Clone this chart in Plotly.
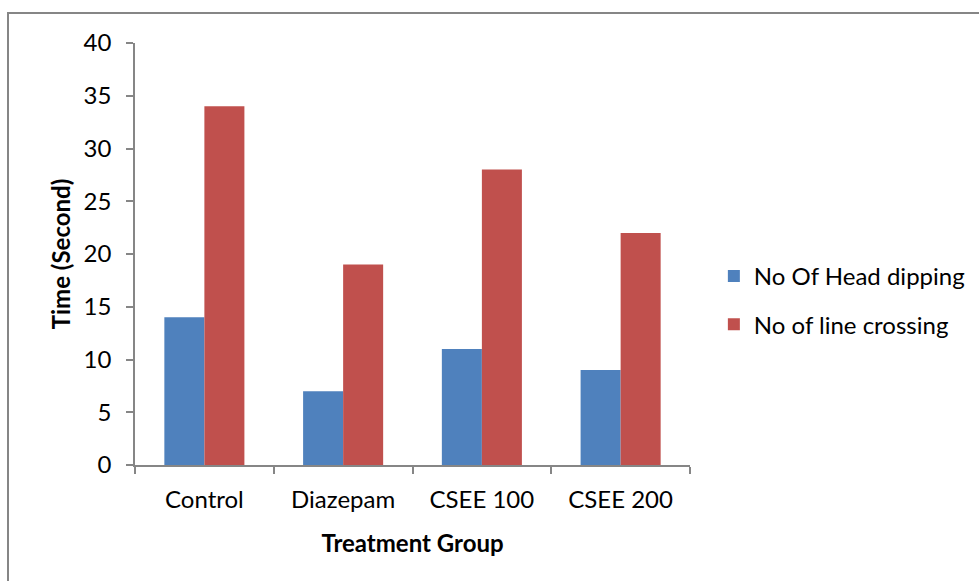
import plotly.graph_objects as go

# Treatment groups and the two measured behaviours
groups = ["Control", "Diazepam", "CSEE 100", "CSEE 200"]
head_dipping = [14, 7, 11, 9]
line_crossing = [34, 19, 28, 22]

series_names = ["No Of Head dipping", "No of line crossing"]
series_colors = ["#4F81BD", "#C0504D"]

FONT = "Lato"
FS = 24
AXIS_GRAY = "#868686"

L, R, T, B = 135, 289, 43, 116
W, H = 979, 581
PW, PH = W - L - R, H - T - B

fig = go.Figure()
for name, vals, col, grp in zip(series_names, [head_dipping, line_crossing], series_colors, ["a", "b"]):
    fig.add_trace(go.Bar(
        x=groups, y=vals, name=name, marker=dict(color=col, line=dict(width=0)),
        legendgroup=grp,
    ))

fig.update_layout(
    width=W, height=H,
    margin=dict(l=L, r=R, t=T, b=B, autoexpand=False),
    paper_bgcolor="white", plot_bgcolor="white",
    barmode="group", bargap=0.423, bargroupgap=0,
    font=dict(family=FONT, size=FS, color="black"),
    showlegend=True,
    legend=dict(
        x=1.043, xanchor="left", y=0.39, yanchor="middle",
        font=dict(family=FONT, size=FS, color="black"),
        tracegroupgap=14, itemwidth=30,
        bgcolor="rgba(0,0,0,0)",
    ),
    xaxis=dict(
        type="category",
        showline=True, linecolor=AXIS_GRAY, linewidth=1.5,
        ticks="outside", tickson="boundaries", ticklen=7, tickcolor=AXIS_GRAY, tickwidth=1.5,
        ticklabelstandoff=12,
        showgrid=False, zeroline=False,
        tickfont=dict(family=FONT, size=FS, color="black"),
        title=dict(text="<b>Treatment Group</b>", font=dict(family=FONT, size=FS, color="black"), standoff=24),
    ),
    yaxis=dict(
        range=[0, 40], dtick=5,
        showline=True, linecolor=AXIS_GRAY, linewidth=1.5,
        ticks="outside", ticklen=7, tickcolor=AXIS_GRAY, tickwidth=1.5,
        ticklabelstandoff=10,
        showgrid=False, zeroline=False,
        tickfont=dict(family=FONT, size=FS, color="black"),
        title=dict(text="<b>Time (Second)</b>", font=dict(family=FONT, size=FS, color="black"), standoff=6),
    ),
    shapes=[dict(
        type="rect", xref="paper", yref="paper",
        x0=(8 - L) / PW, x1=1.8, y0=-0.5, y1=(H - B - 13) / PH,
        line=dict(color=AXIS_GRAY, width=2), fillcolor="rgba(0,0,0,0)", layer="below",
    )],
)

fig.write_html("out.html")
